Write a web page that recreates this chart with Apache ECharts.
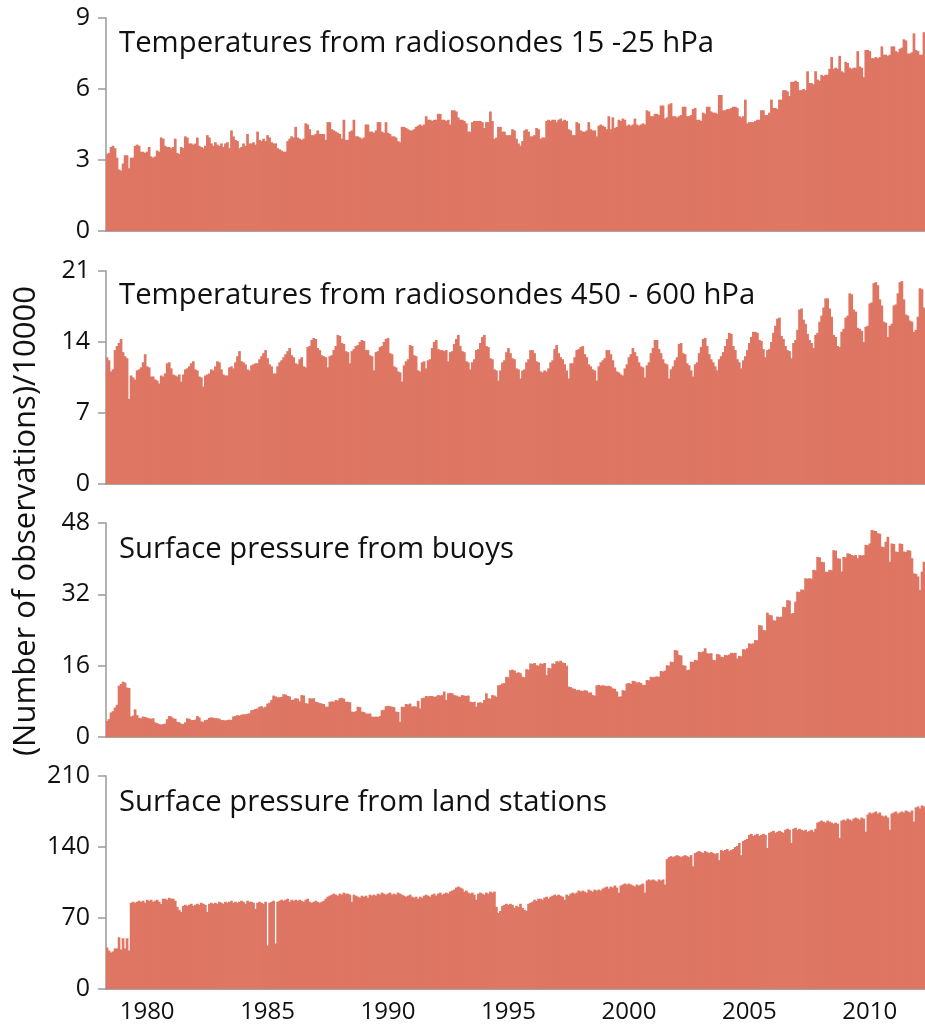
<!DOCTYPE html>
<html>
<head>
<meta charset="utf-8">
<script src="https://cdn.jsdelivr.net/npm/echarts@6/dist/echarts.min.js"></script>
<style>
  html, body { margin: 0; padding: 0; background: #fff; }
  #chart { width: 925px; height: 1026px; }
</style>
</head>
<body>
<div id="chart"></div>
<script>
// monthly counts, May 1978 .. Apr 2012, one row per 12 months
const upperTemp = [
  3.25, 3.3, 3.55, 3.6, 3.5, 3.1, 2.6, 2.55, 2.85, 3.2, 3.2, 2.65,
  3.1, 3.1, 3.6, 3.65, 3.6, 3.35, 3.35, 3.3, 3.35, 3.55, 3.15, 3.1,
  3.15, 3.4, 3.35, 3.95, 3.9, 3.6, 3.55, 3.55, 3.5, 3.55, 3.9, 3.3,
  3.25, 3.55, 3.5, 4.0, 3.95, 3.7, 3.7, 3.65, 3.7, 3.95, 3.6, 3.55,
  3.5, 3.6, 4.05, 3.95, 3.7, 3.6, 3.75, 3.65, 3.6, 3.7, 3.55, 3.7,
  3.75, 3.5, 4.25, 4.0, 3.85, 3.8, 3.5, 3.55, 3.7, 3.6, 4.1, 3.7,
  3.7, 3.75, 3.65, 4.2, 3.85, 3.8, 3.9, 3.8, 4.05, 3.95, 3.75, 3.7,
  3.7, 3.5, 3.45, 3.4, 3.35, 3.35, 3.8, 3.9, 4.0, 3.95, 4.4, 3.95,
  3.9, 3.85, 3.9, 4.55, 4.5, 4.3, 4.05, 4.05, 4.1, 4.25, 4.1, 4.1,
  4.1, 3.85, 4.6, 4.6, 4.3, 4.25, 4.2, 4.15, 4.1, 3.9, 4.7, 3.85,
  3.85, 4.2, 4.25, 4.7, 4.0, 4.0, 3.95, 3.9, 3.95, 4.5, 4.5, 4.2,
  4.2, 4.15, 4.25, 4.6, 4.6, 4.2, 4.15, 4.6, 4.15, 4.1, 4.0, 4.0,
  3.95, 3.8, 3.75, 4.4, 4.4, 4.35, 4.3, 4.25, 4.25, 4.3, 4.4, 4.45,
  4.5, 4.45, 4.5, 4.85, 4.7, 4.7, 4.65, 4.7, 4.7, 4.95, 4.95, 4.7,
  4.7, 4.65, 4.7, 4.5, 5.1, 5.1, 5.05, 4.8, 4.7, 4.7, 4.65, 4.55,
  4.2, 4.2, 4.6, 4.65, 4.65, 4.65, 4.65, 4.6, 4.35, 4.6, 4.6, 5.05,
  4.65, 3.9, 3.95, 4.4, 4.4, 4.2, 4.2, 4.05, 4.05, 4.05, 4.3, 4.25,
  3.9, 3.7, 3.6, 3.8, 4.25, 4.3, 4.2, 4.0, 4.0, 4.05, 4.35, 4.3,
  3.9, 3.95, 3.95, 4.65, 4.7, 4.65, 4.7, 4.7, 4.6, 4.7, 4.75, 4.65,
  4.7, 4.65, 4.3, 4.25, 4.05, 4.05, 4.6, 4.55, 4.25, 4.2, 4.2, 4.25,
  4.6, 4.3, 4.25, 4.25, 4.0, 4.45, 4.5, 4.45, 4.4, 4.3, 4.85, 4.3,
  4.8, 4.35, 4.4, 4.7, 4.65, 4.75, 4.7, 4.45, 4.5, 4.45, 4.5, 4.75,
  4.5, 4.45, 4.5, 4.55, 4.5, 5.1, 5.05, 4.85, 4.85, 4.95, 4.95, 4.9,
  5.3, 5.3, 4.75, 4.8, 5.35, 5.4, 4.85, 4.85, 4.8, 4.85, 4.9, 5.25,
  5.25, 4.85, 4.85, 4.9, 5.15, 5.2, 4.7, 4.7, 4.65, 5.0, 4.95, 5.25,
  5.25, 5.05, 5.0, 5.0, 4.95, 5.75, 5.75, 5.1, 5.1, 5.15, 5.15, 5.2,
  5.25, 5.25, 5.2, 4.85, 4.8, 4.85, 5.55, 4.55, 4.6, 4.6, 4.6, 4.65,
  4.7, 4.7, 5.1, 5.1, 4.9, 4.9, 5.0, 5.55, 5.2, 5.2, 5.15, 5.55,
  5.55, 5.95, 5.95, 5.9, 5.7, 6.3, 6.3, 6.35, 6.3, 5.95, 5.95, 6.0,
  5.95, 6.75, 6.25, 6.25, 6.2, 6.75, 6.4, 6.35, 6.6, 6.55, 6.6, 6.6,
  6.85, 7.35, 6.85, 6.9, 6.85, 7.4, 6.75, 6.7, 7.15, 7.1, 6.9, 6.85,
  6.9, 6.9, 7.6, 6.95, 6.9, 6.5, 7.65, 7.65, 7.6, 7.3, 7.3, 7.35,
  7.3, 7.35, 7.8, 7.45, 7.45, 7.4, 7.45, 7.8, 7.8, 7.6, 7.55, 7.7,
  7.75, 8.1, 8.05, 7.5, 7.5, 7.55, 8.35, 7.65, 7.6, 7.45, 7.45, 8.4
];

const midTemp = [
  12.5, 12.2, 11.1, 11.3, 13.2, 13.6, 13.9, 14.3, 13.0, 12.6, 12.4, 8.4,
  10.7, 10.5, 10.3, 11.2, 11.3, 11.5, 12.0, 12.8, 11.6, 11.5, 10.6, 10.6,
  10.3, 10.2, 9.9, 10.7, 10.6, 10.9, 11.9, 12.0, 11.4, 10.8, 10.7, 10.6,
  10.8, 10.1, 10.8, 11.3, 11.4, 11.6, 11.9, 12.1, 11.3, 11.2, 10.6, 10.5,
  9.6, 10.7, 10.8, 10.9, 11.3, 11.2, 11.6, 12.1, 12.0, 11.3, 10.8, 10.7,
  10.7, 11.5, 11.6, 11.4, 12.0, 12.6, 13.1, 12.1, 12.0, 11.8, 11.3, 11.2,
  11.7, 11.8, 11.9, 11.9, 12.3, 12.6, 12.9, 13.2, 12.4, 11.8, 11.6, 10.9,
  10.9, 11.6, 12.0, 12.2, 12.5, 12.8, 13.1, 13.4, 12.7, 12.5, 11.9, 11.8,
  12.3, 12.5, 11.6, 11.5, 13.5, 13.6, 14.2, 14.4, 14.3, 13.4, 13.2, 12.7,
  12.6, 12.5, 11.5, 12.6, 12.7, 13.2, 13.6, 14.7, 14.6, 13.9, 13.8, 13.1,
  13.0, 11.9, 13.1, 13.3, 13.6, 13.7, 14.0, 14.2, 14.1, 13.2, 13.2, 12.7,
  12.6, 11.2, 13.0, 13.1, 13.5, 13.6, 14.0, 14.3, 14.4, 12.9, 12.8, 11.6,
  11.5, 11.1, 11.0, 10.1, 11.7, 12.1, 12.3, 13.7, 13.6, 12.7, 12.6, 11.2,
  11.1, 12.0, 12.1, 11.4, 12.2, 12.3, 13.4, 14.0, 14.2, 13.3, 13.2, 13.2,
  13.1, 13.2, 12.1, 13.0, 13.1, 13.8, 14.3, 14.7, 13.6, 13.1, 13.0, 12.1,
  12.0, 11.3, 12.0, 12.3, 13.2, 13.3, 13.9, 14.5, 14.7, 13.6, 13.5, 12.4,
  12.3, 11.3, 11.2, 10.2, 11.2, 12.0, 12.2, 13.0, 13.4, 12.9, 12.4, 12.3,
  11.4, 11.3, 10.4, 11.2, 11.3, 12.0, 12.3, 13.2, 13.2, 12.9, 12.1, 12.0,
  11.1, 11.0, 11.2, 11.1, 11.4, 12.0, 12.2, 13.3, 13.7, 12.9, 12.5, 12.3,
  11.8, 11.2, 10.4, 11.9, 11.9, 12.5, 13.2, 13.3, 13.5, 13.6, 12.8, 12.5,
  11.8, 11.6, 11.3, 11.2, 10.2, 11.6, 12.0, 12.2, 12.4, 13.2, 13.2, 12.8,
  12.2, 11.5, 11.1, 11.0, 10.8, 10.7, 11.4, 11.8, 12.5, 12.8, 13.4, 13.0,
  12.6, 12.0, 11.6, 11.5, 10.5, 11.7, 12.0, 12.9, 13.4, 14.2, 14.2, 13.3,
  12.9, 12.3, 11.9, 11.8, 10.4, 11.3, 11.6, 12.2, 12.5, 13.8, 13.9, 12.9,
  12.8, 11.9, 11.7, 11.2, 10.6, 11.8, 12.0, 12.9, 13.5, 14.3, 14.4, 13.6,
  12.8, 12.3, 12.0, 11.6, 11.2, 12.3, 12.6, 13.0, 13.6, 14.3, 14.9, 14.8,
  13.6, 13.2, 12.3, 12.0, 11.4, 12.2, 12.6, 13.2, 13.9, 14.5, 15.0, 15.0,
  14.9, 14.2, 14.1, 13.3, 12.5, 13.2, 13.3, 14.0, 14.9, 15.6, 16.3, 16.4,
  14.6, 14.3, 13.6, 13.2, 13.1, 12.4, 13.9, 14.2, 15.2, 17.2, 17.3, 16.2,
  15.8, 14.8, 14.2, 13.9, 13.4, 14.7, 14.9, 16.0, 16.6, 17.4, 18.3, 18.3,
  17.3, 16.5, 14.7, 14.5, 13.6, 13.5, 15.0, 15.3, 16.4, 16.6, 18.8, 18.7,
  17.2, 17.0, 15.4, 15.3, 15.1, 14.0, 15.5, 15.6, 17.8, 17.9, 19.8, 19.9,
  19.6, 18.2, 17.6, 16.0, 15.9, 14.5, 15.6, 15.8, 17.6, 17.7, 18.8, 19.9,
  20.0, 18.2, 16.7, 16.6, 16.1, 16.0, 15.0, 15.2, 16.5, 19.3, 19.2, 17.4
];

const buoyPressure = [
  3.6, 4.0, 5.5, 5.8, 6.6, 7.2, 11.5, 11.9, 12.4, 12.2, 11.1, 11.0,
  4.6, 4.8, 6.2, 4.9, 4.3, 4.2, 4.6, 4.5, 4.3, 4.2, 4.1, 4.2,
  3.3, 3.1, 2.9, 2.8, 2.9, 3.0, 4.0, 4.7, 4.6, 4.2, 4.1, 3.4,
  3.3, 3.0, 2.9, 3.3, 4.2, 4.1, 3.8, 3.8, 3.9, 4.7, 4.4, 3.5,
  3.4, 3.8, 3.9, 4.3, 4.4, 4.3, 4.2, 4.2, 4.1, 3.8, 3.8, 3.7,
  3.8, 3.9, 3.8, 4.6, 4.7, 4.9, 4.8, 5.0, 5.1, 5.1, 5.2, 5.3,
  6.0, 6.1, 6.3, 6.4, 6.8, 6.9, 6.6, 6.8, 7.5, 7.7, 8.3, 9.3,
  9.1, 8.9, 8.9, 9.0, 9.6, 9.5, 9.2, 9.1, 8.3, 8.4, 8.7, 8.6,
  8.0, 9.4, 9.3, 7.6, 7.5, 8.7, 8.6, 8.7, 7.9, 7.8, 7.6, 7.5,
  7.4, 6.8, 6.8, 7.9, 8.0, 7.9, 8.3, 8.2, 8.7, 8.8, 8.6, 7.9,
  7.9, 7.8, 5.7, 5.6, 5.8, 6.8, 6.7, 5.7, 5.6, 5.3, 5.2, 5.3,
  4.6, 4.5, 4.6, 4.5, 4.7, 6.0, 6.1, 6.9, 7.0, 6.9, 6.8, 6.7,
  5.7, 5.6, 3.4, 6.8, 6.7, 7.4, 7.3, 7.5, 6.8, 6.9, 6.8, 8.1,
  6.4, 8.7, 8.8, 9.2, 9.1, 9.2, 9.2, 9.0, 9.1, 9.4, 9.3, 9.4,
  10.2, 8.3, 9.8, 9.9, 9.8, 9.4, 9.3, 9.1, 9.0, 9.4, 9.3, 9.2,
  9.3, 7.9, 7.8, 7.9, 6.8, 7.7, 7.8, 7.6, 8.3, 9.8, 8.7, 8.6,
  9.4, 9.3, 9.05, 11.6, 11.7, 12.0, 12.1, 13.5, 13.4, 15.0, 15.1, 14.9,
  14.4, 14.5, 14.3, 13.5, 13.4, 15.2, 15.1, 16.5, 16.4, 16.6, 16.1, 16.0,
  16.5, 16.4, 16.6, 13.9, 15.5, 15.4, 16.5, 16.4, 17.0, 16.9, 17.1, 16.7,
  16.6, 16.0, 11.3, 11.2, 10.9, 10.8, 10.5, 10.6, 10.4, 10.3, 10.5, 10.4,
  9.95, 10.0, 9.4, 9.3, 11.6, 11.7, 11.5, 11.6, 11.5, 11.4, 11.5, 11.3,
  10.9, 10.8, 10.2, 9.05, 9.1, 10.5, 10.4, 12.0, 12.1, 11.9, 12.6, 12.5,
  12.2, 12.3, 12.1, 11.65, 11.7, 12.8, 12.7, 13.5, 13.4, 13.5, 13.6, 13.5,
  14.8, 14.7, 14.9, 16.1, 16.0, 16.9, 16.8, 19.5, 19.4, 18.4, 18.3, 16.1,
  16.0, 15.0, 15.1, 16.9, 16.8, 17.3, 17.2, 19.1, 19.0, 19.2, 19.9, 18.8,
  18.7, 18.8, 17.3, 17.2, 18.6, 18.5, 18.0, 17.9, 18.4, 18.3, 18.5, 18.9,
  18.8, 18.9, 17.65, 18.2, 18.1, 19.7, 19.6, 19.9, 21.0, 20.9, 21.0, 21.75,
  21.7, 25.1, 25.0, 24.0, 23.9, 27.9, 27.4, 27.3, 26.2, 26.1, 27.0, 26.9,
  27.0, 29.2, 29.1, 30.7, 30.6, 27.7, 27.8, 30.35, 32.6, 32.5, 33.1, 33.0,
  35.6, 35.5, 35.6, 35.5, 37.5, 37.4, 40.4, 40.3, 39.3, 39.2, 37.1, 37.0,
  37.5, 37.4, 41.9, 41.8, 40.1, 40.0, 37.1, 40.4, 40.3, 41.2, 41.1, 40.8,
  40.7, 40.8, 40.1, 40.8, 40.7, 40.8, 43.1, 43.0, 43.4, 46.4, 46.3, 46.2,
  45.7, 45.6, 42.7, 42.6, 43.8, 44.9, 39.3, 43.4, 43.3, 41.6, 41.5, 43.4,
  43.3, 41.6, 41.5, 41.9, 41.8, 40.1, 36.7, 36.6, 36.0, 33.0, 37.1, 39.3
];

const landPressure = [
  41, 38, 36, 37, 40, 40, 51, 39, 50, 40, 50, 38,
  85, 86, 85, 86, 87, 86, 87, 85, 88, 87, 88, 86,
  87, 88, 86, 84, 89, 89, 88, 90, 89, 89, 87, 81,
  78, 76, 82, 83, 82, 83, 84, 82, 83, 84, 83, 85,
  84, 83, 76, 84, 85, 84, 85, 84, 86, 85, 84, 86,
  85, 86, 87, 85, 86, 85, 86, 87, 86, 84, 87, 86,
  86, 85, 79, 85, 86, 85, 84, 86, 43, 85, 86, 87,
  45, 86, 87, 88, 87, 88, 89, 86, 88, 87, 88, 87,
  88, 87, 86, 88, 89, 86, 85, 86, 87, 86, 85, 86,
  87, 89, 91, 92, 93, 94, 93, 92, 94, 93, 95, 94,
  94, 93, 86, 93, 92, 91, 90, 92, 91, 92, 90, 93,
  92, 93, 92, 94, 93, 95, 94, 93, 94, 95, 93, 94,
  93, 95, 94, 93, 92, 91, 92, 93, 91, 90, 91, 89,
  91, 90, 92, 93, 92, 91, 93, 94, 92, 94, 95, 93,
  94, 95, 94, 96, 97, 98, 100, 101, 100, 99, 96, 97,
  95, 94, 95, 93, 88, 94, 95, 94, 93, 95, 94, 96,
  95, 96, 81, 75, 77, 82, 83, 84, 83, 84, 83, 80,
  82, 81, 84, 80, 78, 77, 84, 85, 86, 88, 87, 89,
  89, 88, 90, 91, 89, 91, 92, 93, 92, 93, 92, 91,
  88, 93, 92, 94, 95, 94, 95, 97, 96, 97, 96, 95,
  98, 97, 96, 98, 97, 98, 97, 99, 100, 101, 99, 101,
  100, 102, 100, 95, 102, 103, 104, 103, 104, 103, 102, 101,
  103, 102, 103, 104, 95, 107, 108, 107, 108, 107, 106, 108,
  107, 108, 103, 128, 130, 131, 130, 131, 132, 131, 130, 131,
  132, 131, 130, 132, 121, 134, 135, 136, 135, 134, 136, 135,
  134, 135, 134, 133, 134, 127, 137, 136, 137, 138, 136, 137,
  138, 140, 141, 144, 132, 146, 147, 148, 152, 153, 151, 152,
  153, 151, 152, 153, 152, 139, 154, 155, 156, 154, 155, 156,
  155, 154, 157, 158, 157, 144, 158, 159, 157, 158, 157, 156,
  157, 155, 156, 157, 155, 158, 164, 165, 166, 165, 164, 166,
  165, 164, 163, 164, 163, 149, 166, 167, 166, 168, 167, 166,
  168, 169, 168, 167, 169, 168, 155, 172, 174, 173, 174, 175,
  173, 174, 171, 170, 171, 169, 157, 173, 174, 175, 173, 174,
  175, 174, 176, 175, 174, 176, 165, 179, 180, 178, 181, 180
];

const panelTitles = [
  'Temperatures from radiosondes 15 -25 hPa',
  'Temperatures from radiosondes 450 - 600 hPa',
  'Surface pressure from buoys',
  'Surface pressure from land stations'
];
const yMax = [9, 21, 48, 210];
const yStep = [3, 7, 16, 70];
const yearTicks = ['1980', '1985', '1990', '1995', '2000', '2005', '2010'];
const yName = '(Number of observations)/10000';

// month categories starting May 1978
const months = [];
for (let k = 0; k < upperTemp.length; k++) {
    const m = 4 + k;
    const yr = 1978 + Math.floor(m / 12);
    const mo = (m % 12) + 1;
    months.push(yr + '-' + (mo < 10 ? '0' + mo : mo));
}

const seriesData = [upperTemp, midTemp, buoyPressure, landPressure];
const tops = [18, 271, 523, 776];
const heights = [213, 213, 214, 213];
const family = 'Open Sans';
const barColor = '#de7663';
const axisGray = '#9a9a9a';

const chart = echarts.init(document.getElementById('chart'));

chart.setOption({
    animation: false,
    backgroundColor: '#fff',
    textStyle: {fontFamily: family},
    grid: tops.map((t, i) => ({left: 106, right: 0, top: t, height: heights[i]})),
    xAxis: tops.map((t, i) => ({
        type: 'category',
        gridIndex: i,
        data: months,
        boundaryGap: true,
        axisLine: {lineStyle: {color: '#888', width: 1.5}},
        axisTick: {show: false},
        axisLabel: {
            show: i === 3,
            interval: (idx, val) => val.slice(5) === '01' && yearTicks.includes(val.slice(0, 4)),
            formatter: val => val.slice(0, 4),
            fontSize: 24,
            fontFamily: family,
            color: '#111',
            margin: 11
        }
    })),
    yAxis: tops.map((t, i) => ({
        type: 'value',
        gridIndex: i,
        min: 0,
        max: yMax[i],
        interval: yStep[i],
        axisLine: {show: true, lineStyle: {color: axisGray, width: 1.5}},
        axisTick: {show: true, length: 8, lineStyle: {color: axisGray, width: 1.5}},
        splitLine: {show: false},
        axisLabel: {fontSize: 25, fontFamily: family, color: '#111', margin: 16}
    })),
    series: seriesData.map((d, i) => ({
        type: 'bar',
        xAxisIndex: i,
        yAxisIndex: i,
        data: d,
        barWidth: 2.7,
        barGap: '0%',
        itemStyle: {color: barColor},
        silent: true
    })),
    graphic: [
        ...panelTitles.map((txt, i) => ({
            type: 'text',
            left: 119,
            top: [29, 281, 535, 788][i],
            style: {text: txt, fontSize: 29.3, fontFamily: family, fill: '#111'}
        })),
        {
            type: 'text',
            x: 26,
            y: 521,
            rotation: Math.PI / 2,
            style: {
                text: yName,
                fontSize: 31,
                fontFamily: family,
                fill: '#111',
                align: 'center',
                verticalAlign: 'middle'
            }
        }
    ]
});
</script>
</body>
</html>
